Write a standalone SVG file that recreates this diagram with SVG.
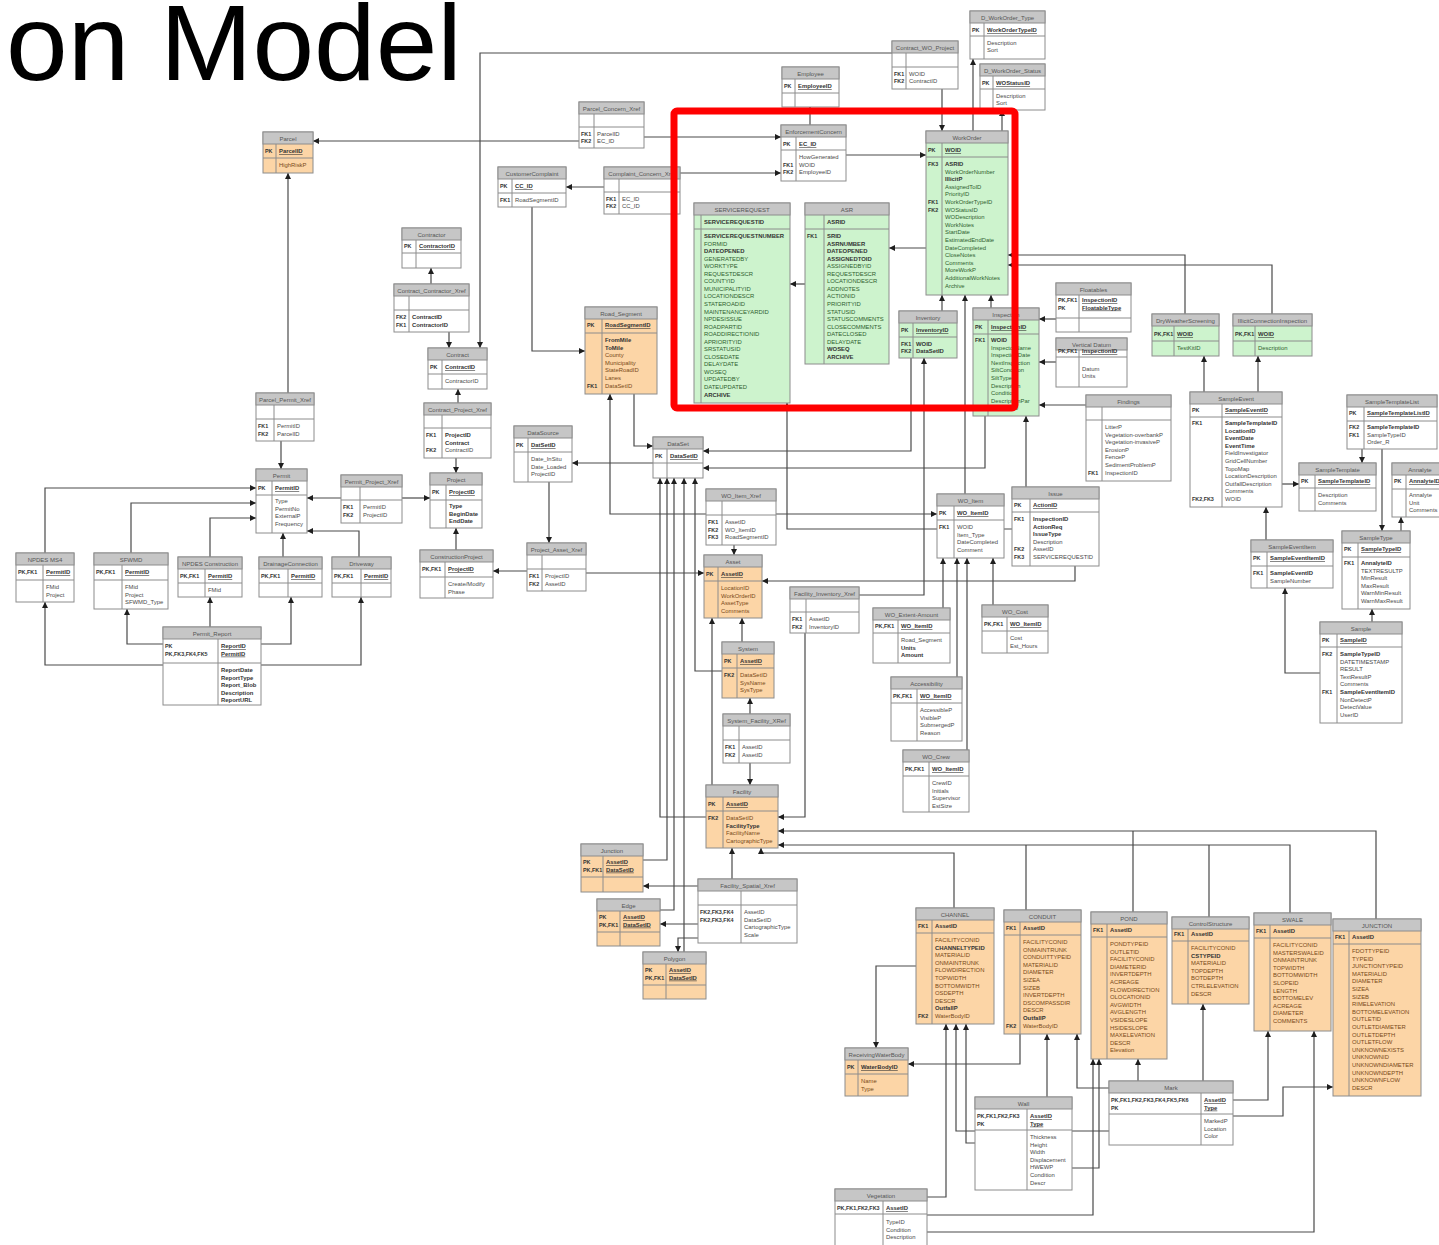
<svg xmlns="http://www.w3.org/2000/svg" width="1439" height="1245" viewBox="0 0 1439 1245">
<style>
text{font-family:"Liberation Sans",Arial,sans-serif;font-size:5.9px;fill:#4a4a4a}
.w{fill:#fff;stroke:#8c8c8c;stroke-width:1}
.o{fill:#fcd5a6;stroke:#8c8c8c;stroke-width:1}
.g{fill:#cdf3cd;stroke:#8c8c8c;stroke-width:1}
.h{fill:#c6c6c6;stroke:#8c8c8c;stroke-width:1}
.d{stroke:#8c8c8c;stroke-width:1;fill:none}
.th{text-anchor:middle;fill:#555;font-size:6px}
.k{font-weight:bold;fill:#333;font-size:5.4px}
.u{font-weight:bold;text-decoration:underline;fill:#333}
.b{font-weight:bold;fill:#333}
.og .n{fill:#7a4a18}
.gg .n{fill:#2f5f2f}
.c{fill:none;stroke:#4a4a4a;stroke-width:1.2}
.title{font-size:108px;fill:#000}
</style>
<defs>
<marker id="a" viewBox="0 0 6 6" refX="6" refY="3" markerWidth="6" markerHeight="6" markerUnits="userSpaceOnUse" orient="auto"><path d="M0,0L6,3L0,6z" fill="#1e1e1e"/></marker>
</defs>
<rect width="1439" height="1245" fill="#fff"/>
<text class="title" x="6" y="80" textLength="456" lengthAdjust="spacingAndGlyphs">on Model</text>

<g id="connectors" marker-end="url(#a)">
<path class="c" d="M892 53H480V348"/>
<path class="c" d="M942 89V131"/>
<path class="c" d="M973 131V59"/>
<path class="c" d="M1002 131V110"/>
<path class="c" d="M810 125V107"/>
<path class="c" d="M846 155H926"/>
<path class="c" d="M644 137H781"/>
<path class="c" d="M579 141H313"/>
<path class="c" d="M680 173H781"/>
<path class="c" d="M604 187H566"/>
<path class="c" d="M532 207V351H585"/>
<path class="c" d="M926 248H889"/>
<path class="c" d="M805 284H790"/>
<path class="c" d="M942 311V295"/>
<path class="c" d="M965 494V295"/>
<path class="c" d="M991 308V295"/>
<path class="c" d="M1185 314V255H1008"/>
<path class="c" d="M1272 314V265H1008"/>
<path class="c" d="M1056 319H1039"/>
<path class="c" d="M1056 362H1039"/>
<path class="c" d="M1086 405H1039"/>
<path class="c" d="M911 358V451H703"/>
<path class="c" d="M985 416V468H703"/>
<path class="c" d="M859 595H924V358"/>
<path class="c" d="M634 394V446H653"/>
<path class="c" d="M653 463H572"/>
<path class="c" d="M706 514H610V394"/>
<path class="c" d="M776 514H937"/>
<path class="c" d="M734 545V555"/>
<path class="c" d="M1012 529H787V403"/>
<path class="c" d="M1075 566V581H762"/>
<path class="c" d="M1026 487V416"/>
<path class="c" d="M943 608V558"/>
<path class="c" d="M957 677V558"/>
<path class="c" d="M967 750V558"/>
<path class="c" d="M993 605V558"/>
<path class="c" d="M586 573H704"/>
<path class="c" d="M527 571H493"/>
<path class="c" d="M549 482V543"/>
<path class="c" d="M742 642V618"/>
<path class="c" d="M712 785V618"/>
<path class="c" d="M722 671H695V478"/>
<path class="c" d="M706 817H660V478"/>
<path class="c" d="M643 860H667V478"/>
<path class="c" d="M660 910H674V478"/>
<path class="c" d="M684 952V478"/>
<path class="c" d="M750 714V698"/>
<path class="c" d="M750 763V785"/>
<path class="c" d="M805 633V817H778"/>
<path class="c" d="M732 879V848"/>
<path class="c" d="M698 886H643"/>
<path class="c" d="M698 924H660"/>
<path class="c" d="M698 938H678V952"/>
<path class="c" d="M1376 919V831H778"/>
<path class="c" d="M1290 913V845H778"/>
<path class="c" d="M954 908V853H761V848"/>
<path class="c" d="M916 966H876V1048"/>
<path class="c" d="M1020 1034V1064H908"/>
<path class="c" d="M1047 1097V1034"/>
<path class="c" d="M1109 1088H1077V1034"/>
<path class="c" d="M927 1197H946V1024"/>
<path class="c" d="M1109 1131H956V1024"/>
<path class="c" d="M975 1143H966V1024"/>
<path class="c" d="M927 1215H1093V1059"/>
<path class="c" d="M1072 1168H1099V1059"/>
<path class="c" d="M1138 1081V1059"/>
<path class="c" d="M1203 1081V1004"/>
<path class="c" d="M1233 1100H1268V1031"/>
<path class="c" d="M1233 1116H1283V1087H1333"/>
<path class="c" d="M927 1232H1314V1031"/>
<path class="c" d="M431 284V268"/>
<path class="c" d="M449 332V348"/>
<path class="c" d="M458 403V389"/>
<path class="c" d="M456 458V473"/>
<path class="c" d="M456 550V528"/>
<path class="c" d="M341 498H307"/>
<path class="c" d="M402 498H430"/>
<path class="c" d="M288 393V173"/>
<path class="c" d="M281 441V469"/>
<path class="c" d="M45 553V488H256"/>
<path class="c" d="M131 553V503H256"/>
<path class="c" d="M210 557V518H256"/>
<path class="c" d="M283 557V533"/>
<path class="c" d="M359 557V531H307"/>
<path class="c" d="M163 665H45V602"/>
<path class="c" d="M163 644H127V609"/>
<path class="c" d="M210 627V597"/>
<path class="c" d="M261 644H291V597"/>
<path class="c" d="M261 665H361V597"/>
<path class="c" d="M1204 392V356"/>
<path class="c" d="M1258 392V356"/>
<path class="c" d="M1282 484H1299"/>
<path class="c" d="M1362 449V463"/>
<path class="c" d="M1382 449V531"/>
<path class="c" d="M1401 531V517"/>
<path class="c" d="M1266 540V507"/>
<path class="c" d="M1320 673H1285V588"/>
<path class="c" d="M1372 622V609"/>
</g>
<g id="connector-joins">
<path class="c" d="M1133 912V831M1026 910V845M1209 917V845"/>
</g>

<g id="d_workorder_type">
<rect class="w" x="970" y="11" width="75" height="48"/><rect class="h" x="970" y="11" width="75" height="12"/>
<path class="d" d="M970 36H1045M984 23V59"/>
<text class="th" x="1007.5" y="19.5">D_WorkOrder_Type</text>
<text class="k" x="972" y="32">PK</text><text class="u" x="987" y="32">WorkOrderTypeID</text>
<text class="n" x="987" y="45">Description<tspan x="987" dy="7">Sort</tspan></text>
</g>
<g id="d_workorder_status">
<rect class="w" x="980" y="64" width="65" height="46"/><rect class="h" x="980" y="64" width="65" height="12"/>
<path class="d" d="M980 89H1045M993 76V110"/>
<text class="th" x="1012.5" y="72.5">D_WorkOrder_Status</text>
<text class="k" x="982" y="85">PK</text><text class="u" x="996" y="85">WOStatusID</text>
<text class="n" x="996" y="98">Description<tspan x="996" dy="7">Sort</tspan></text>
</g>
<g id="contract_wo_project">
<rect class="w" x="892" y="41" width="66" height="48"/><rect class="h" x="892" y="41" width="66" height="12"/>
<path class="d" d="M892 67H958M906 53V89"/>
<text class="th" x="925" y="49.5">Contract_WO_Project</text>
<text class="k" x="894" y="76">FK1<tspan x="894" dy="7">FK2</tspan></text>
<text class="n" x="909" y="76">WOID<tspan x="909" dy="7">ContractID</tspan></text>
</g>
<g id="employee">
<rect class="w" x="782" y="67" width="57" height="40"/><rect class="h" x="782" y="67" width="57" height="12"/>
<path class="d" d="M782 93H839M795 79V107"/>
<text class="th" x="810.5" y="75.5">Employee</text>
<text class="k" x="784" y="88">PK</text><text class="u" x="798" y="88">EmployeeID</text>
</g>
<g id="parcel_concern_xref">
<rect class="w" x="579" y="102" width="65" height="46"/><rect class="h" x="579" y="102" width="65" height="12"/>
<path class="d" d="M579 127H644M594 114V148"/>
<text class="th" x="611.5" y="110.5">Parcel_Concern_Xref</text>
<text class="k" x="581" y="136">FK1<tspan x="581" dy="7">FK2</tspan></text>
<text class="n" x="597" y="136">ParcelID<tspan x="597" dy="7">EC_ID</tspan></text>
</g>
<g id="enforcementconcern">
<rect class="w" x="781" y="125" width="65" height="56"/><rect class="h" x="781" y="125" width="65" height="12"/>
<path class="d" d="M781 150H846M796 137V181"/>
<text class="th" x="813.5" y="133.5">EnforcementConcern</text>
<text class="k" x="783" y="146">PK</text><text class="u" x="799" y="146">EC_ID</text>
<text class="n" x="799" y="159">HowGenerated<tspan x="799" dy="7.5">WOID</tspan><tspan x="799" dy="7.5">EmployeeID</tspan></text>
<text class="k" x="783" y="166.5">FK1<tspan x="783" dy="7.5">FK2</tspan></text>
</g>
<g id="parcel" class="og">
<rect class="o" x="263" y="132" width="50" height="41"/><rect class="h" x="263" y="132" width="50" height="12"/>
<path class="d" d="M263 158H313M276 144V173"/>
<text class="th" x="288" y="140.5">Parcel</text>
<text class="k" x="265" y="153">PK</text><text class="u" x="279" y="153">ParcelID</text>
<text class="n" x="279" y="167">HighRiskP</text>
</g>
<g id="customercomplaint">
<rect class="w" x="498" y="167" width="68" height="40"/><rect class="h" x="498" y="167" width="68" height="12"/>
<path class="d" d="M498 193H566M512 179V207"/>
<text class="th" x="532" y="175.5">CustomerComplaint</text>
<text class="k" x="500" y="188">PK</text><text class="u" x="515" y="188">CC_ID</text>
<text class="k" x="500" y="202">FK1</text><text class="n" x="515" y="202">RoadSegmentID</text>
</g>
<g id="complaint_concern_xref">
<rect class="w" x="604" y="167" width="76" height="47"/><rect class="h" x="604" y="167" width="76" height="12"/>
<path class="d" d="M604 192H680M619 179V214"/>
<text class="th" x="642" y="175.5">Complaint_Concern_Xref</text>
<text class="k" x="606" y="201">FK1<tspan x="606" dy="7">FK2</tspan></text>
<text class="n" x="622" y="201">EC_ID<tspan x="622" dy="7">CC_ID</tspan></text>
</g>
<g id="workorder" class="gg">
<rect class="g" x="926" y="131" width="82" height="164"/><rect class="h" x="926" y="131" width="82" height="12"/>
<path class="d" d="M926 157H1008M942 143V295"/>
<text class="th" x="967" y="139.5">WorkOrder</text>
<text class="k" x="928" y="152">PK</text><text class="u" x="945" y="152">WOID</text>
<text class="k" x="928" y="166">FK3</text><text class="k" x="928" y="204">FK1<tspan x="928" dy="7.6">FK2</tspan></text>
<text class="n" x="945" y="166"><tspan class="b">ASRID</tspan><tspan x="945" dy="7.6">WorkOrderNumber</tspan><tspan x="945" dy="7.6" class="b">IllicitP</tspan><tspan x="945" dy="7.6">AssignedToID</tspan><tspan x="945" dy="7.6">PriorityID</tspan><tspan x="945" dy="7.6">WorkOrderTypeID</tspan><tspan x="945" dy="7.6">WOStatusID</tspan><tspan x="945" dy="7.6">WODescription</tspan><tspan x="945" dy="7.6">WorkNotes</tspan><tspan x="945" dy="7.6">StartDate</tspan><tspan x="945" dy="7.6">EstimatedEndDate</tspan><tspan x="945" dy="7.6">DateCompleted</tspan><tspan x="945" dy="7.6">CloseNotes</tspan><tspan x="945" dy="7.6">Comments</tspan><tspan x="945" dy="7.6">MoreWorkP</tspan><tspan x="945" dy="7.6">AdditionalWorkNotes</tspan><tspan x="945" dy="7.6">Archive</tspan></text>
</g>
<g id="servicerequest" class="gg">
<rect class="g" x="694" y="203" width="96" height="200"/><rect class="h" x="694" y="203" width="96" height="12"/>
<path class="d" d="M694 229H790M701 215V403"/>
<text class="th" x="742" y="211.5">SERVICEREQUEST</text>
<text class="b" x="704" y="224">SERVICEREQUESTID</text>
<text class="n" x="704" y="238"><tspan class="b">SERVICEREQUESTNUMBER</tspan><tspan x="704" dy="7.55">FORMID</tspan><tspan x="704" dy="7.55" class="b">DATEOPENED</tspan><tspan x="704" dy="7.55">GENERATEDBY</tspan><tspan x="704" dy="7.55">WORKTYPE</tspan><tspan x="704" dy="7.55">REQUESTDESCR</tspan><tspan x="704" dy="7.55">COUNTYID</tspan><tspan x="704" dy="7.55">MUNICIPALITYID</tspan><tspan x="704" dy="7.55">LOCATIONDESCR</tspan><tspan x="704" dy="7.55">STATEROADID</tspan><tspan x="704" dy="7.55">MAINTENANCEYARDID</tspan><tspan x="704" dy="7.55">NPDESISSUE</tspan><tspan x="704" dy="7.55">ROADPARTID</tspan><tspan x="704" dy="7.55">ROADDIRECTIONID</tspan><tspan x="704" dy="7.55">APRIORITYID</tspan><tspan x="704" dy="7.55">SRSTATUSID</tspan><tspan x="704" dy="7.55">CLOSEDATE</tspan><tspan x="704" dy="7.55">DELAYDATE</tspan><tspan x="704" dy="7.55">WOSEQ</tspan><tspan x="704" dy="7.55">UPDATEDBY</tspan><tspan x="704" dy="7.55">DATEUPDATED</tspan><tspan x="704" dy="7.55" class="b">ARCHIVE</tspan></text>
</g>
<g id="asr" class="gg">
<rect class="g" x="805" y="203" width="84" height="161"/><rect class="h" x="805" y="203" width="84" height="12"/>
<path class="d" d="M805 229H889M824 215V364"/>
<text class="th" x="847" y="211.5">ASR</text>
<text class="b" x="827" y="224">ASRID</text>
<text class="k" x="807" y="238">FK1</text>
<text class="n" x="827" y="238"><tspan class="b">SRID</tspan><tspan x="827" dy="7.55" class="b">ASRNUMBER</tspan><tspan x="827" dy="7.55" class="b">DATEOPENED</tspan><tspan x="827" dy="7.55" class="b">ASSIGNEDTOID</tspan><tspan x="827" dy="7.55">ASSIGNEDBYID</tspan><tspan x="827" dy="7.55">REQUESTDESCR</tspan><tspan x="827" dy="7.55">LOCATIONDESCR</tspan><tspan x="827" dy="7.55">ADDNOTES</tspan><tspan x="827" dy="7.55">ACTIONID</tspan><tspan x="827" dy="7.55">PRIORITYID</tspan><tspan x="827" dy="7.55">STATUSID</tspan><tspan x="827" dy="7.55">STATUSCOMMENTS</tspan><tspan x="827" dy="7.55">CLOSECOMMENTS</tspan><tspan x="827" dy="7.55">DATECLOSED</tspan><tspan x="827" dy="7.55">DELAYDATE</tspan><tspan x="827" dy="7.55" class="b">WOSEQ</tspan><tspan x="827" dy="7.55" class="b">ARCHIVE</tspan></text>
</g>
<g id="inventory" class="gg">
<rect class="g" x="899" y="311" width="58" height="47"/><rect class="h" x="899" y="311" width="58" height="12"/>
<path class="d" d="M899 337H957M913 323V358"/>
<text class="th" x="928" y="319.5">Inventory</text>
<text class="k" x="901" y="332">PK</text><text class="u" x="916" y="332">InventoryID</text>
<text class="k" x="901" y="346">FK1<tspan x="901" dy="7">FK2</tspan></text>
<text class="b" x="916" y="346">WOID<tspan x="916" dy="7">DataSetID</tspan></text>
</g>
<g id="inspection" class="gg">
<rect class="g" x="973" y="308" width="66" height="108"/><rect class="h" x="973" y="308" width="66" height="12"/>
<path class="d" d="M973 334H1039M988 320V416"/>
<text class="th" x="1006" y="316.5">Inspection</text>
<text class="k" x="975" y="329">PK</text><text class="u" x="991" y="329">InspectionID</text>
<text class="k" x="975" y="342">FK1</text>
<text class="n" x="991" y="342"><tspan class="b">WOID</tspan><tspan x="991" dy="7.6">InspectorName</tspan><tspan x="991" dy="7.6">InspectionDate</tspan><tspan x="991" dy="7.6">NextInspection</tspan><tspan x="991" dy="7.6">SiltCondition</tspan><tspan x="991" dy="7.6">SiltType</tspan><tspan x="991" dy="7.6">Description</tspan><tspan x="991" dy="7.6">Condition</tspan><tspan x="991" dy="7.6">DescriptionPar</tspan><tspan x="991" dy="7.6">DataSetID</tspan></text>
</g>
<g id="floatables">
<rect class="w" x="1056" y="283" width="75" height="49"/><rect class="h" x="1056" y="283" width="75" height="12"/>
<path class="d" d="M1056 318H1131M1079 295V332"/>
<text class="th" x="1093.5" y="291.5">Floatables</text>
<text class="k" x="1058" y="302">PK,FK1<tspan x="1058" dy="7.5">PK</tspan></text>
<text class="u" x="1082" y="302">InspectionID<tspan x="1082" dy="7.5">FloatableType</tspan></text>
</g>
<g id="vertical_datum">
<rect class="w" x="1056" y="338" width="71" height="49"/><rect class="h" x="1056" y="338" width="71" height="12"/>
<path class="d" d="M1056 357H1127M1079 350V387"/>
<text class="th" x="1091.5" y="346.5">Vertical Datum</text>
<text class="k" x="1058" y="353">PK,FK1</text><text class="u" x="1082" y="353">InspectionID</text>
<text class="n" x="1082" y="371">Datum<tspan x="1082" dy="7">Units</tspan></text>
</g>
<g id="findings">
<rect class="w" x="1086" y="395" width="85" height="86"/><rect class="h" x="1086" y="395" width="85" height="12"/>
<path class="d" d="M1086 420H1171M1102 407V481"/>
<text class="th" x="1128.5" y="403.5">Findings</text>
<text class="n" x="1105" y="429">LitterP<tspan x="1105" dy="7.6">Vegetation-overbankP</tspan><tspan x="1105" dy="7.6">Vegetation-invasiveP</tspan><tspan x="1105" dy="7.6">ErosionP</tspan><tspan x="1105" dy="7.6">FenceP</tspan><tspan x="1105" dy="7.6">SedimentProblemP</tspan><tspan x="1105" dy="7.6">InspectionID</tspan></text>
<text class="k" x="1088" y="474.6">FK1</text>
</g>
<g id="dryweatherscreening" class="gg">
<rect class="g" x="1152" y="314" width="67" height="42"/><rect class="h" x="1152" y="314" width="67" height="12"/>
<path class="d" d="M1152 341H1219M1174 326V356"/>
<text class="th" x="1185.5" y="322.5">DryWeatherScreening</text>
<text class="k" x="1154" y="336">PK,FK1</text><text class="u" x="1177" y="336">WOID</text>
<text class="n" x="1177" y="350">TestKitID</text>
</g>
<g id="illicitconnectioninspection" class="gg">
<rect class="g" x="1233" y="314" width="79" height="42"/><rect class="h" x="1233" y="314" width="79" height="12"/>
<path class="d" d="M1233 341H1312M1255 326V356"/>
<text class="th" x="1272.5" y="322.5" font-size="5.4">IllicitConnectionInspection</text>
<text class="k" x="1235" y="336">PK,FK1</text><text class="u" x="1258" y="336">WOID</text>
<text class="n" x="1258" y="350">Description</text>
</g>
<g id="sampleevent">
<rect class="w" x="1190" y="392" width="92" height="115"/><rect class="h" x="1190" y="392" width="92" height="12"/>
<path class="d" d="M1190 417H1282M1222 404V507"/>
<text class="th" x="1236" y="400.5">SampleEvent</text>
<text class="k" x="1192" y="412">PK</text><text class="u" x="1225" y="412">SampleEventID</text>
<text class="k" x="1192" y="425">FK1</text><text class="k" x="1192" y="501">FK2,FK3</text>
<text class="n" x="1225" y="425"><tspan class="b">SampleTemplateID</tspan><tspan x="1225" dy="7.6" class="b">LocationID</tspan><tspan x="1225" dy="7.6" class="b">EventDate</tspan><tspan x="1225" dy="7.6" class="b">EventTime</tspan><tspan x="1225" dy="7.6">FieldInvestigator</tspan><tspan x="1225" dy="7.6">GridCellNumber</tspan><tspan x="1225" dy="7.6">TopoMap</tspan><tspan x="1225" dy="7.6">LocationDescription</tspan><tspan x="1225" dy="7.6">OutfallDescription</tspan><tspan x="1225" dy="7.6">Comments</tspan><tspan x="1225" dy="7.6">WOID</tspan></text>
</g>
<g id="sampletemplatelist">
<rect class="w" x="1347" y="395" width="90" height="54"/><rect class="h" x="1347" y="395" width="90" height="12"/>
<path class="d" d="M1347 421H1437M1364 407V449"/>
<text class="th" x="1392" y="403.5">SampleTemplateList</text>
<text class="k" x="1349" y="415">PK</text><text class="u" x="1367" y="415">SampleTemplateListID</text>
<text class="k" x="1349" y="429">FK2<tspan x="1349" dy="7.6">FK1</tspan></text>
<text class="n" x="1367" y="429"><tspan class="b">SampleTemplateID</tspan><tspan x="1367" dy="7.6">SampleTypeID</tspan><tspan x="1367" dy="7.6">Order_R</tspan></text>
</g>
<g id="sampletemplate">
<rect class="w" x="1299" y="463" width="77" height="48"/><rect class="h" x="1299" y="463" width="77" height="12"/>
<path class="d" d="M1299 488H1376M1315 475V511"/>
<text class="th" x="1337.5" y="471.5">SampleTemplate</text>
<text class="k" x="1301" y="483">PK</text><text class="u" x="1318" y="483">SampleTemplateID</text>
<text class="n" x="1318" y="497">Description<tspan x="1318" dy="7.6">Comments</tspan></text>
</g>
<g id="annalyte">
<rect class="w" x="1392" y="463" width="56" height="54"/><rect class="h" x="1392" y="463" width="56" height="12"/>
<path class="d" d="M1392 489H1448M1406 475V517"/>
<text class="th" x="1420" y="471.5">Annalyte</text>
<text class="k" x="1394" y="483">PK</text><text class="u" x="1409" y="483">AnnalyteID</text>
<text class="n" x="1409" y="497">Annalyte<tspan x="1409" dy="7.6">Unit</tspan><tspan x="1409" dy="7.6">Comments</tspan></text>
</g>
<g id="sampleeventitem">
<rect class="w" x="1251" y="540" width="82" height="48"/><rect class="h" x="1251" y="540" width="82" height="12"/>
<path class="d" d="M1251 566H1333M1267 552V588"/>
<text class="th" x="1292" y="548.5">SampleEventItem</text>
<text class="k" x="1253" y="560">PK</text><text class="u" x="1270" y="560">SampleEventItemID</text>
<text class="k" x="1253" y="575">FK1</text>
<text class="n" x="1270" y="575"><tspan class="b">SampleEventID</tspan><tspan x="1270" dy="7.6">SampleNumber</tspan></text>
</g>
<g id="sampletype">
<rect class="w" x="1342" y="531" width="68" height="78"/><rect class="h" x="1342" y="531" width="68" height="12"/>
<path class="d" d="M1342 557H1410M1358 543V609"/>
<text class="th" x="1376" y="539.5">SampleType</text>
<text class="k" x="1344" y="551">PK</text><text class="u" x="1361" y="551">SampleTypeID</text>
<text class="k" x="1344" y="565">FK1</text>
<text class="n" x="1361" y="565"><tspan class="b">AnnalyteID</tspan><tspan x="1361" dy="7.6">TEXTRESULTP</tspan><tspan x="1361" dy="7.6">MinResult</tspan><tspan x="1361" dy="7.6">MaxResult</tspan><tspan x="1361" dy="7.6">WarnMinResult</tspan><tspan x="1361" dy="7.6">WarnMaxResult</tspan></text>
</g>
<g id="sample">
<rect class="w" x="1320" y="622" width="82" height="101"/><rect class="h" x="1320" y="622" width="82" height="12"/>
<path class="d" d="M1320 647H1402M1337 634V723"/>
<text class="th" x="1361" y="630.5">Sample</text>
<text class="k" x="1322" y="642">PK</text><text class="u" x="1340" y="642">SampleID</text>
<text class="k" x="1322" y="656">FK2</text><text class="k" x="1322" y="694">FK1</text>
<text class="n" x="1340" y="656"><tspan class="b">SampleTypeID</tspan><tspan x="1340" dy="7.6">DATETIMESTAMP</tspan><tspan x="1340" dy="7.6">RESULT</tspan><tspan x="1340" dy="7.6">TextResultP</tspan><tspan x="1340" dy="7.6">Comments</tspan><tspan x="1340" dy="7.6" class="b">SampleEventItemID</tspan><tspan x="1340" dy="7.6">NonDetectP</tspan><tspan x="1340" dy="7.6">DetectValue</tspan><tspan x="1340" dy="7.6">UserID</tspan></text>
</g>

<g id="contractor">
<rect class="w" x="402" y="228" width="59" height="40"/><rect class="h" x="402" y="228" width="59" height="12"/>
<path class="d" d="M402 253H461M416 240V268"/>
<text class="th" x="431.5" y="236.5">Contractor</text>
<text class="k" x="404" y="248">PK</text><text class="u" x="419" y="248">ContractorID</text>
</g>
<g id="contract_contractor_xref">
<rect class="w" x="394" y="284" width="75" height="48"/><rect class="h" x="394" y="284" width="75" height="12"/>
<path class="d" d="M394 310H469M409 296V332"/>
<text class="th" x="431.5" y="292.5">Contract_Contractor_Xref</text>
<text class="k" x="396" y="319">FK2<tspan x="396" dy="7.6">FK1</tspan></text>
<text class="b" x="412" y="319">ContractID<tspan x="412" dy="7.6">ContractorID</tspan></text>
</g>
<g id="contract">
<rect class="w" x="428" y="348" width="59" height="41"/><rect class="h" x="428" y="348" width="59" height="12"/>
<path class="d" d="M428 374H487M442 360V389"/>
<text class="th" x="457.5" y="356.5">Contract</text>
<text class="k" x="430" y="369">PK</text><text class="u" x="445" y="369">ContractID</text>
<text class="n" x="445" y="383">ContractorID</text>
</g>
<g id="contract_project_xref">
<rect class="w" x="424" y="403" width="67" height="55"/><rect class="h" x="424" y="403" width="67" height="12"/>
<path class="d" d="M424 428H491M442 415V458"/>
<text class="th" x="457.5" y="411.5">Contract_Project_Xref</text>
<text class="k" x="426" y="437">FK1</text><text class="k" x="426" y="452.2">FK2</text>
<text class="n" x="445" y="437"><tspan class="b">ProjectID</tspan><tspan x="445" dy="7.6" class="b">Contract</tspan><tspan x="445" dy="7.6">ContractID</tspan></text>
</g>
<g id="parcel_permit_xref">
<rect class="w" x="256" y="393" width="58" height="48"/><rect class="h" x="256" y="393" width="58" height="12"/>
<path class="d" d="M256 419H314M274 405V441"/>
<text class="th" x="285" y="401.5">Parcel_Permit_Xref</text>
<text class="k" x="258" y="428">FK1<tspan x="258" dy="7.6">FK2</tspan></text>
<text class="n" x="277" y="428">PermitID<tspan x="277" dy="7.6">ParcelID</tspan></text>
</g>
<g id="permit">
<rect class="w" x="256" y="469" width="51" height="64"/><rect class="h" x="256" y="469" width="51" height="12"/>
<path class="d" d="M256 495H307M272 481V533"/>
<text class="th" x="281.5" y="477.5">Permit</text>
<text class="k" x="258" y="490">PK</text><text class="u" x="275" y="490">PermitID</text>
<text class="n" x="275" y="503">Type<tspan x="275" dy="7.6">PermitNo</tspan><tspan x="275" dy="7.6">ExternalP</tspan><tspan x="275" dy="7.6">Frequency</tspan></text>
</g>
<g id="permit_project_xref">
<rect class="w" x="341" y="475" width="61" height="48"/><rect class="h" x="341" y="475" width="61" height="12"/>
<path class="d" d="M341 500H402M360 487V523"/>
<text class="th" x="371.5" y="483.5">Permit_Project_Xref</text>
<text class="k" x="343" y="509">FK1<tspan x="343" dy="7.6">FK2</tspan></text>
<text class="n" x="363" y="509">PermitID<tspan x="363" dy="7.6">ProjectID</tspan></text>
</g>
<g id="project">
<rect class="w" x="430" y="473" width="52" height="55"/><rect class="h" x="430" y="473" width="52" height="12"/>
<path class="d" d="M430 500H482M446 485V528"/>
<text class="th" x="456" y="481.5">Project</text>
<text class="k" x="432" y="494">PK</text><text class="u" x="449" y="494">ProjectID</text>
<text class="b" x="449" y="508">Type<tspan x="449" dy="7.6">BeginDate</tspan><tspan x="449" dy="7.6">EndDate</tspan></text>
</g>
<g id="constructionproject">
<rect class="w" x="420" y="550" width="73" height="48"/><rect class="h" x="420" y="550" width="73" height="12"/>
<path class="d" d="M420 577H493M445 562V598"/>
<text class="th" x="456.5" y="558.5">ConstructionProject</text>
<text class="k" x="422" y="571">PK,FK1</text><text class="u" x="448" y="571">ProjectID</text>
<text class="n" x="448" y="586">Create/Modify<tspan x="448" dy="7.6">Phase</tspan></text>
</g>
<g id="npdes_ms4">
<rect class="w" x="16" y="553" width="58" height="49"/><rect class="h" x="16" y="553" width="58" height="12"/>
<path class="d" d="M16 580H74M43 565V602"/>
<text class="th" x="45" y="561.5">NPDES MS4</text>
<text class="k" x="18" y="574">PK,FK1</text><text class="u" x="46" y="574">PermitID</text>
<text class="n" x="46" y="589">FMid<tspan x="46" dy="7.6">Project</tspan></text>
</g>
<g id="sfwmd">
<rect class="w" x="94" y="553" width="74" height="56"/><rect class="h" x="94" y="553" width="74" height="12"/>
<path class="d" d="M94 580H168M122 565V609"/>
<text class="th" x="131" y="561.5">SFWMD</text>
<text class="k" x="96" y="574">PK,FK1</text><text class="u" x="125" y="574">PermitID</text>
<text class="n" x="125" y="589">FMid<tspan x="125" dy="7.6">Project</tspan><tspan x="125" dy="7.6">SFWMD_Type</tspan></text>
</g>
<g id="npdes_construction">
<rect class="w" x="178" y="557" width="64" height="40"/><rect class="h" x="178" y="557" width="64" height="12"/>
<path class="d" d="M178 583H242M205 569V597"/>
<text class="th" x="210" y="565.5">NPDES Construction</text>
<text class="k" x="180" y="578">PK,FK1</text><text class="u" x="208" y="578">PermitID</text>
<text class="n" x="208" y="592">FMid</text>
</g>
<g id="drainageconnection">
<rect class="w" x="259" y="557" width="63" height="40"/><rect class="h" x="259" y="557" width="63" height="12"/>
<path class="d" d="M259 583H322M288 569V597"/>
<text class="th" x="290.5" y="565.5">DrainageConnection</text>
<text class="k" x="261" y="578">PK,FK1</text><text class="u" x="291" y="578">PermitID</text>
</g>
<g id="driveway">
<rect class="w" x="332" y="557" width="59" height="40"/><rect class="h" x="332" y="557" width="59" height="12"/>
<path class="d" d="M332 583H391M361 569V597"/>
<text class="th" x="361.5" y="565.5">Driveway</text>
<text class="k" x="334" y="578">PK,FK1</text><text class="u" x="364" y="578">PermitID</text>
</g>
<g id="permit_report">
<rect class="w" x="163" y="627" width="98" height="78"/><rect class="h" x="163" y="627" width="98" height="12"/>
<path class="d" d="M163 663H261M218 639V705"/>
<text class="th" x="212" y="635.5">Permit_Report</text>
<text class="k" x="165" y="648">PK<tspan x="165" dy="7.6">PK,FK3,FK4,FK5</tspan></text>
<text class="u" x="221" y="648">ReportID<tspan x="221" dy="7.6">PermitID</tspan></text>
<text class="b" x="221" y="672">ReportDate<tspan x="221" dy="7.6">ReportType</tspan><tspan x="221" dy="7.6">Report_Blob</tspan><tspan x="221" dy="7.6">Description</tspan><tspan x="221" dy="7.6">ReportURL</tspan></text>
</g>

<g id="road_segment" class="og">
<rect class="o" x="585" y="307" width="72" height="87"/><rect class="h" x="585" y="307" width="72" height="12"/>
<path class="d" d="M585 333H657M602 319V394"/>
<text class="th" x="621" y="315.5">Road_Segment</text>
<text class="k" x="587" y="327">PK</text><text class="u" x="605" y="327">RoadSegmentID</text>
<text class="k" x="587" y="387.6">FK1</text>
<text class="n" x="605" y="342"><tspan class="b">FromMile</tspan><tspan x="605" dy="7.6" class="b">ToMile</tspan><tspan x="605" dy="7.6">County</tspan><tspan x="605" dy="7.6">Municipality</tspan><tspan x="605" dy="7.6">StateRoadID</tspan><tspan x="605" dy="7.6">Lanes</tspan><tspan x="605" dy="7.6">DataSetID</tspan></text>
</g>
<g id="datasource">
<rect class="w" x="514" y="426" width="58" height="56"/><rect class="h" x="514" y="426" width="58" height="12"/>
<path class="d" d="M514 452H572M528 438V482"/>
<text class="th" x="543" y="434.5">DataSource</text>
<text class="k" x="516" y="447">PK</text><text class="u" x="531" y="447">DatSetID</text>
<text class="n" x="531" y="461">Date_InSitu<tspan x="531" dy="7.6">Date_Loaded</tspan><tspan x="531" dy="7.6">ProjectID</tspan></text>
</g>
<g id="dataset">
<rect class="w" x="653" y="437" width="50" height="41"/><rect class="h" x="653" y="437" width="50" height="12"/>
<path class="d" d="M653 463H703M667 449V478"/>
<text class="th" x="678" y="445.5">DataSet</text>
<text class="k" x="655" y="458">PK</text><text class="u" x="670" y="458">DataSetID</text>
</g>
<g id="wo_item_xref">
<rect class="w" x="706" y="489" width="70" height="56"/><rect class="h" x="706" y="489" width="70" height="12"/>
<path class="d" d="M706 515H776M722 501V545"/>
<text class="th" x="741" y="497.5">WO_Item_Xref</text>
<text class="k" x="708" y="524">FK1<tspan x="708" dy="7.6">FK2</tspan><tspan x="708" dy="7.6">FK3</tspan></text>
<text class="n" x="725" y="524">AssetID<tspan x="725" dy="7.6">WO_ItemID</tspan><tspan x="725" dy="7.6">RoadSegmentID</tspan></text>
</g>
<g id="project_asset_xref">
<rect class="w" x="527" y="543" width="59" height="48"/><rect class="h" x="527" y="543" width="59" height="12"/>
<path class="d" d="M527 569H586M542 555V591"/>
<text class="th" x="556.5" y="551.5">Project_Asset_Xref</text>
<text class="k" x="529" y="578">FK1<tspan x="529" dy="7.6">FK2</tspan></text>
<text class="n" x="545" y="578">ProjectID<tspan x="545" dy="7.6">AssetID</tspan></text>
</g>
<g id="asset" class="og">
<rect class="o" x="704" y="555" width="58" height="63"/><rect class="h" x="704" y="555" width="58" height="12"/>
<path class="d" d="M704 581H762M718 567V618"/>
<text class="th" x="733" y="563.5">Asset</text>
<text class="k" x="706" y="576">PK</text><text class="u" x="721" y="576">AssetID</text>
<text class="n" x="721" y="590">LocationID<tspan x="721" dy="7.6">WorkOrderID</tspan><tspan x="721" dy="7.6">AssetType</tspan><tspan x="721" dy="7.6">Comments</tspan></text>
</g>
<g id="facility_inventory_xref">
<rect class="w" x="790" y="587" width="69" height="46"/><rect class="h" x="790" y="587" width="69" height="12"/>
<path class="d" d="M790 612H859M806 599V633"/>
<text class="th" x="824.5" y="595.5">Facility_Inventory_Xref</text>
<text class="k" x="792" y="621">FK1<tspan x="792" dy="7.6">FK2</tspan></text>
<text class="n" x="809" y="621">AssetID<tspan x="809" dy="7.6">InventoryID</tspan></text>
</g>
<g id="wo_item">
<rect class="w" x="937" y="494" width="67" height="64"/><rect class="h" x="937" y="494" width="67" height="12"/>
<path class="d" d="M937 520H1004M954 506V558"/>
<text class="th" x="970.5" y="502.5">WO_Item</text>
<text class="k" x="939" y="515">PK</text><text class="u" x="957" y="515">WO_ItemID</text>
<text class="k" x="939" y="529">FK1</text>
<text class="n" x="957" y="529">WOID<tspan x="957" dy="7.6">Item_Type</tspan><tspan x="957" dy="7.6">DateCompleted</tspan><tspan x="957" dy="7.6">Comment</tspan></text>
</g>
<g id="issue">
<rect class="w" x="1012" y="487" width="87" height="79"/><rect class="h" x="1012" y="487" width="87" height="12"/>
<path class="d" d="M1012 512H1099M1030 499V566"/>
<text class="th" x="1055.5" y="495.5">Issue</text>
<text class="k" x="1014" y="507">PK</text><text class="u" x="1033" y="507">ActionID</text>
<text class="k" x="1014" y="521">FK1</text><text class="k" x="1014" y="551.4">FK2<tspan x="1014" dy="7.6">FK3</tspan></text>
<text class="n" x="1033" y="521"><tspan class="b">InspectionID</tspan><tspan x="1033" dy="7.6" class="b">ActionReq</tspan><tspan x="1033" dy="7.6" class="b">IssueType</tspan><tspan x="1033" dy="7.6">Description</tspan><tspan x="1033" dy="7.6">AssetID</tspan><tspan x="1033" dy="7.6">SERVICEREQUESTID</tspan></text>
</g>
<g id="wo_extent_amount">
<rect class="w" x="873" y="608" width="77" height="55"/><rect class="h" x="873" y="608" width="77" height="12"/>
<path class="d" d="M873 633H950M898 620V663"/>
<text class="th" x="911.5" y="616.5">WO_Extent-Amount</text>
<text class="k" x="875" y="628">PK,FK1</text><text class="u" x="901" y="628">WO_ItemID</text>
<text class="n" x="901" y="642">Road_Segment<tspan x="901" dy="7.6" class="b">Units</tspan><tspan x="901" dy="7.6" class="b">Amount</tspan></text>
</g>
<g id="wo_cost">
<rect class="w" x="982" y="605" width="66" height="48"/><rect class="h" x="982" y="605" width="66" height="12"/>
<path class="d" d="M982 631H1048M1007 617V653"/>
<text class="th" x="1015" y="613.5">WO_Cost</text>
<text class="k" x="984" y="626">PK,FK1</text><text class="u" x="1010" y="626">WO_ItemID</text>
<text class="n" x="1010" y="640">Cost<tspan x="1010" dy="7.6">Est_Hours</tspan></text>
</g>
<g id="accessibility">
<rect class="w" x="891" y="677" width="71" height="64"/><rect class="h" x="891" y="677" width="71" height="12"/>
<path class="d" d="M891 703H962M917 689V741"/>
<text class="th" x="926.5" y="685.5">Accessibility</text>
<text class="k" x="893" y="698">PK,FK1</text><text class="u" x="920" y="698">WO_ItemID</text>
<text class="n" x="920" y="712">AccessibleP<tspan x="920" dy="7.6">VisibleP</tspan><tspan x="920" dy="7.6">SubmergedP</tspan><tspan x="920" dy="7.6">Reason</tspan></text>
</g>
<g id="wo_crew">
<rect class="w" x="903" y="750" width="66" height="62"/><rect class="h" x="903" y="750" width="66" height="12"/>
<path class="d" d="M903 776H969M929 762V812"/>
<text class="th" x="936" y="758.5">WO_Crew</text>
<text class="k" x="905" y="771">PK,FK1</text><text class="u" x="932" y="771">WO_ItemID</text>
<text class="n" x="932" y="785">CrewID<tspan x="932" dy="7.6">Initials</tspan><tspan x="932" dy="7.6">Supervisor</tspan><tspan x="932" dy="7.6">EstSize</tspan></text>
</g>
<g id="system" class="og">
<rect class="o" x="722" y="642" width="52" height="56"/><rect class="h" x="722" y="642" width="52" height="12"/>
<path class="d" d="M722 668H774M737 654V698"/>
<text class="th" x="748" y="650.5">System</text>
<text class="k" x="724" y="663">PK</text><text class="u" x="740" y="663">AssetID</text>
<text class="k" x="724" y="677">FK2</text>
<text class="n" x="740" y="677">DataSetID<tspan x="740" dy="7.6">SysName</tspan><tspan x="740" dy="7.6">SysType</tspan></text>
</g>
<g id="system_facility_xref">
<rect class="w" x="723" y="714" width="67" height="49"/><rect class="h" x="723" y="714" width="67" height="12"/>
<path class="d" d="M723 740H790M739 726V763"/>
<text class="th" x="756.5" y="722.5">System_Facility_XRef</text>
<text class="k" x="725" y="749">FK1<tspan x="725" dy="7.6">FK2</tspan></text>
<text class="n" x="742" y="749">AssetID<tspan x="742" dy="7.6">AssetID</tspan></text>
</g>
<g id="facility" class="og">
<rect class="o" x="706" y="785" width="72" height="63"/><rect class="h" x="706" y="785" width="72" height="12"/>
<path class="d" d="M706 811H778M723 797V848"/>
<text class="th" x="742" y="793.5">Facility</text>
<text class="k" x="708" y="806">PK</text><text class="u" x="726" y="806">AssetID</text>
<text class="k" x="708" y="820">FK2</text>
<text class="n" x="726" y="820">DataSetID<tspan x="726" dy="7.6" class="b">FacilityType</tspan><tspan x="726" dy="7.6">FacilityName</tspan><tspan x="726" dy="7.6">CartographicType</tspan></text>
</g>
<g id="junction_small" class="og">
<rect class="o" x="581" y="844" width="62" height="48"/><rect class="h" x="581" y="844" width="62" height="12"/>
<path class="d" d="M581 877H643M603 856V892"/>
<text class="th" x="612" y="852.5">Junction</text>
<text class="k" x="583" y="864">PK<tspan x="583" dy="7.6">PK,FK1</tspan></text>
<text class="u" x="606" y="864">AssetID<tspan x="606" dy="7.6">DataSetID</tspan></text>
</g>
<g id="edge" class="og">
<rect class="o" x="597" y="899" width="63" height="47"/><rect class="h" x="597" y="899" width="63" height="12"/>
<path class="d" d="M597 932H660M620 911V946"/>
<text class="th" x="628.5" y="907.5">Edge</text>
<text class="k" x="599" y="919">PK<tspan x="599" dy="7.6">PK,FK1</tspan></text>
<text class="u" x="623" y="919">AssetID<tspan x="623" dy="7.6">DataSetID</tspan></text>
</g>
<g id="polygon" class="og">
<rect class="o" x="643" y="952" width="63" height="47"/><rect class="h" x="643" y="952" width="63" height="12"/>
<path class="d" d="M643 985H706M666 964V999"/>
<text class="th" x="674.5" y="960.5">Polygon</text>
<text class="k" x="645" y="972">PK<tspan x="645" dy="7.6">PK,FK1</tspan></text>
<text class="u" x="669" y="972">AssetID<tspan x="669" dy="7.6">DataSetID</tspan></text>
</g>
<g id="facility_spatial_xref">
<rect class="w" x="698" y="879" width="99" height="64"/><rect class="h" x="698" y="879" width="99" height="12"/>
<path class="d" d="M698 905H797M741 891V943"/>
<text class="th" x="747.5" y="887.5">Facility_Spatial_Xref</text>
<text class="k" x="700" y="914">FK2,FK3,FK4<tspan x="700" dy="7.6">FK2,FK3,FK4</tspan></text>
<text class="n" x="744" y="914">AssetID<tspan x="744" dy="7.6">DataSetID</tspan><tspan x="744" dy="7.6">CartographicType</tspan><tspan x="744" dy="7.6">Scale</tspan></text>
</g>

<g id="channel" class="og">
<rect class="o" x="916" y="908" width="78" height="116"/><rect class="h" x="916" y="908" width="78" height="12"/>
<path class="d" d="M916 933H994M932 920V1024"/>
<text class="th" x="955" y="916.5">CHANNEL</text>
<text class="k" x="918" y="928">FK1</text><text class="b" x="935" y="928">AssetID</text>
<text class="k" x="918" y="1018">FK2</text>
<text class="n" x="935" y="942">FACILITYCONID<tspan x="935" dy="7.6" class="b">CHANNELTYPEID</tspan><tspan x="935" dy="7.6">MATERIALID</tspan><tspan x="935" dy="7.6">ONMAINTRUNK</tspan><tspan x="935" dy="7.6">FLOWDIRECTION</tspan><tspan x="935" dy="7.6">TOPWIDTH</tspan><tspan x="935" dy="7.6">BOTTOMWIDTH</tspan><tspan x="935" dy="7.6">OSDEPTH</tspan><tspan x="935" dy="7.6">DESCR</tspan><tspan x="935" dy="7.6" class="b">OutfallP</tspan><tspan x="935" dy="7.6">WaterBodyID</tspan></text>
</g>
<g id="conduit" class="og">
<rect class="o" x="1004" y="910" width="77" height="124"/><rect class="h" x="1004" y="910" width="77" height="12"/>
<path class="d" d="M1004 935H1081M1020 922V1034"/>
<text class="th" x="1042.5" y="918.5">CONDUIT</text>
<text class="k" x="1006" y="930">FK1</text><text class="b" x="1023" y="930">AssetID</text>
<text class="k" x="1006" y="1027.6">FK2</text>
<text class="n" x="1023" y="944">FACILITYCONID<tspan x="1023" dy="7.6">ONMAINTRUNK</tspan><tspan x="1023" dy="7.6">CONDUITTYPEID</tspan><tspan x="1023" dy="7.6">MATERIALID</tspan><tspan x="1023" dy="7.6">DIAMETER</tspan><tspan x="1023" dy="7.6">SIZEA</tspan><tspan x="1023" dy="7.6">SIZEB</tspan><tspan x="1023" dy="7.6">INVERTDEPTH</tspan><tspan x="1023" dy="7.6">DSCOMPASSDIR</tspan><tspan x="1023" dy="7.6">DESCR</tspan><tspan x="1023" dy="7.6" class="b">OutfallP</tspan><tspan x="1023" dy="7.6">WaterBodyID</tspan></text>
</g>
<g id="pond" class="og">
<rect class="o" x="1091" y="912" width="76" height="147"/><rect class="h" x="1091" y="912" width="76" height="12"/>
<path class="d" d="M1091 937H1167M1107 924V1059"/>
<text class="th" x="1129" y="920.5">POND</text>
<text class="k" x="1093" y="932">FK1</text><text class="b" x="1110" y="932">AssetID</text>
<text class="n" x="1110" y="946">PONDTYPEID<tspan x="1110" dy="7.6">OUTLETID</tspan><tspan x="1110" dy="7.6">FACILITYCONID</tspan><tspan x="1110" dy="7.6">DIAMETERID</tspan><tspan x="1110" dy="7.6">INVERTDEPTH</tspan><tspan x="1110" dy="7.6">ACREAGE</tspan><tspan x="1110" dy="7.6">FLOWDIRECTION</tspan><tspan x="1110" dy="7.6">OLOCATIONID</tspan><tspan x="1110" dy="7.6">AVGWIDTH</tspan><tspan x="1110" dy="7.6">AVGLENGTH</tspan><tspan x="1110" dy="7.6">VSIDESLOPE</tspan><tspan x="1110" dy="7.6">HSIDESLOPE</tspan><tspan x="1110" dy="7.6">MAXELEVATION</tspan><tspan x="1110" dy="7.6">DESCR</tspan><tspan x="1110" dy="7.6">Elevation</tspan></text>
</g>
<g id="controlstructure" class="og">
<rect class="o" x="1172" y="917" width="77" height="87"/><rect class="h" x="1172" y="917" width="77" height="12"/>
<path class="d" d="M1172 941H1249M1188 929V1004"/>
<text class="th" x="1210.5" y="925.5">ControlStructure</text>
<text class="k" x="1174" y="936">FK1</text><text class="b" x="1191" y="936">AssetID</text>
<text class="n" x="1191" y="950">FACILITYCONID<tspan x="1191" dy="7.6" class="b">CSTYPEID</tspan><tspan x="1191" dy="7.6">MATERIALID</tspan><tspan x="1191" dy="7.6">TOPDEPTH</tspan><tspan x="1191" dy="7.6">BOTDEPTH</tspan><tspan x="1191" dy="7.6">CTRLELEVATION</tspan><tspan x="1191" dy="7.6">DESCR</tspan></text>
</g>
<g id="swale" class="og">
<rect class="o" x="1254" y="913" width="77" height="118"/><rect class="h" x="1254" y="913" width="77" height="12"/>
<path class="d" d="M1254 938H1331M1270 925V1031"/>
<text class="th" x="1292.5" y="921.5">SWALE</text>
<text class="k" x="1256" y="933">FK1</text><text class="b" x="1273" y="933">AssetID</text>
<text class="n" x="1273" y="947">FACILITYCONID<tspan x="1273" dy="7.6">MASTERSWALEID</tspan><tspan x="1273" dy="7.6">ONMAINTRUNK</tspan><tspan x="1273" dy="7.6">TOPWIDTH</tspan><tspan x="1273" dy="7.6">BOTTOMWIDTH</tspan><tspan x="1273" dy="7.6">SLOPEID</tspan><tspan x="1273" dy="7.6">LENGTH</tspan><tspan x="1273" dy="7.6">BOTTOMELEV</tspan><tspan x="1273" dy="7.6">ACREAGE</tspan><tspan x="1273" dy="7.6">DIAMETER</tspan><tspan x="1273" dy="7.6">COMMENTS</tspan></text>
</g>
<g id="junction" class="og">
<rect class="o" x="1333" y="919" width="88" height="177"/><rect class="h" x="1333" y="919" width="88" height="12"/>
<path class="d" d="M1333 944H1421M1349 931V1096"/>
<text class="th" x="1377" y="927.5">JUNCTION</text>
<text class="k" x="1335" y="939">FK1</text><text class="b" x="1352" y="939">AssetID</text>
<text class="n" x="1352" y="953">FDOTTYPEID<tspan x="1352" dy="7.6">TYPEID</tspan><tspan x="1352" dy="7.6">JUNCTIONTYPEID</tspan><tspan x="1352" dy="7.6">MATERIALID</tspan><tspan x="1352" dy="7.6">DIAMETER</tspan><tspan x="1352" dy="7.6">SIZEA</tspan><tspan x="1352" dy="7.6">SIZEB</tspan><tspan x="1352" dy="7.6">RIMELEVATION</tspan><tspan x="1352" dy="7.6">BOTTOMELEVATION</tspan><tspan x="1352" dy="7.6">OUTLETID</tspan><tspan x="1352" dy="7.6">OUTLETDIAMETER</tspan><tspan x="1352" dy="7.6">OUTLETDEPTH</tspan><tspan x="1352" dy="7.6">OUTLETFLOW</tspan><tspan x="1352" dy="7.6">UNKNOWNEXISTS</tspan><tspan x="1352" dy="7.6">UNKNOWNID</tspan><tspan x="1352" dy="7.6">UNKNOWNDIAMETER</tspan><tspan x="1352" dy="7.6">UNKNOWNDEPTH</tspan><tspan x="1352" dy="7.6">UNKNOWNFLOW</tspan><tspan x="1352" dy="7.6">DESCR</tspan></text>
</g>
<g id="receivingwaterbody" class="og">
<rect class="o" x="845" y="1048" width="63" height="48"/><rect class="h" x="845" y="1048" width="63" height="12"/>
<path class="d" d="M845 1074H908M858 1060V1096"/>
<text class="th" x="876.5" y="1056.5">ReceivingWaterBody</text>
<text class="k" x="847" y="1069">PK</text><text class="u" x="861" y="1069">WaterBodyID</text>
<text class="n" x="861" y="1083">Name<tspan x="861" dy="7.6">Type</tspan></text>
</g>
<g id="wall">
<rect class="w" x="975" y="1097" width="97" height="93"/><rect class="h" x="975" y="1097" width="97" height="12"/>
<path class="d" d="M975 1130H1072M1027 1109V1190"/>
<text class="th" x="1023.5" y="1105.5">Wall</text>
<text class="k" x="977" y="1118">PK,FK1,FK2,FK3<tspan x="977" dy="7.6">PK</tspan></text>
<text class="u" x="1030" y="1118">AssetID<tspan x="1030" dy="7.6">Type</tspan></text>
<text class="n" x="1030" y="1139">Thickness<tspan x="1030" dy="7.6">Height</tspan><tspan x="1030" dy="7.6">Width</tspan><tspan x="1030" dy="7.6">Displacement</tspan><tspan x="1030" dy="7.6">HWEWP</tspan><tspan x="1030" dy="7.6">Condition</tspan><tspan x="1030" dy="7.6">Descr</tspan></text>
</g>
<g id="mark">
<rect class="w" x="1109" y="1081" width="124" height="64"/><rect class="h" x="1109" y="1081" width="124" height="12"/>
<path class="d" d="M1109 1114H1233M1201 1093V1145"/>
<text class="th" x="1171" y="1089.5">Mark</text>
<text class="k" x="1111" y="1102">PK,FK1,FK2,FK3,FK4,FK5,FK6<tspan x="1111" dy="7.6">PK</tspan></text>
<text class="u" x="1204" y="1102">AssetID<tspan x="1204" dy="7.6">Type</tspan></text>
<text class="n" x="1204" y="1123">MarkedP<tspan x="1204" dy="7.6">Location</tspan><tspan x="1204" dy="7.6">Color</tspan></text>
</g>
<g id="vegetation">
<rect class="w" x="835" y="1189" width="92" height="62"/><rect class="h" x="835" y="1189" width="92" height="12"/>
<path class="d" d="M835 1214H927M883 1201V1251"/>
<text class="th" x="881" y="1197.5">Vegetation</text>
<text class="k" x="837" y="1210">PK,FK1,FK2,FK3</text><text class="u" x="886" y="1210">AssetID</text>
<text class="n" x="886" y="1224">TypeID<tspan x="886" dy="7.6">Condition</tspan><tspan x="886" dy="7.6">Description</tspan></text>
</g>

<rect id="highlight" x="674" y="111" width="341" height="297" rx="3" fill="none" stroke="#ff0000" stroke-width="7"/>
</svg>
